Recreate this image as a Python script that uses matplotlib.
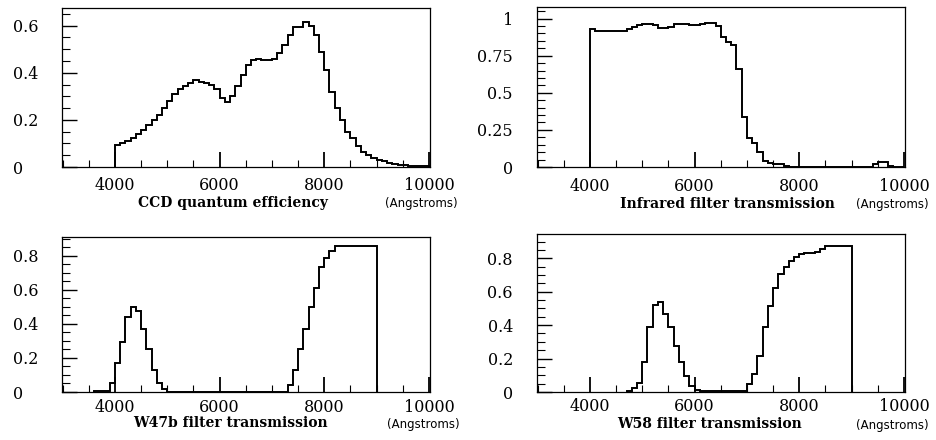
import numpy as np
import matplotlib
matplotlib.use('Agg')
import matplotlib.pyplot as plt
from matplotlib.ticker import MultipleLocator

# all curves are histograms with 100 Angstrom bins
bin_width = 100

# CCD quantum efficiency, first bin at 4000 A
ccd_start = 4000
ccd_values = [0.095, 0.10, 0.11, 0.125, 0.14, 0.155, 0.18, 0.20, 0.22, 0.25,
              0.28, 0.31, 0.33, 0.345, 0.358, 0.37, 0.36, 0.358, 0.35, 0.33,
              0.295, 0.278, 0.30, 0.345, 0.39, 0.435, 0.455, 0.46, 0.455, 0.455,
              0.46, 0.485, 0.52, 0.56, 0.595, 0.595, 0.614, 0.60, 0.56, 0.49,
              0.41, 0.32, 0.25, 0.20, 0.15, 0.125, 0.09, 0.065, 0.05, 0.04,
              0.03, 0.025, 0.018, 0.013, 0.01, 0.007, 0.004, 0.003, 0.003, 0.003]

# infrared filter, first bin at 4000 A
ir_start = 4000
ir_values = [0.928, 0.917, 0.917, 0.917, 0.917, 0.917, 0.917, 0.928, 0.946, 0.955,
             0.964, 0.964, 0.955, 0.935, 0.935, 0.946, 0.964, 0.964, 0.964, 0.955,
             0.955, 0.964, 0.973, 0.973, 0.951, 0.879, 0.845, 0.823, 0.659, 0.339,
             0.193, 0.16, 0.103, 0.043, 0.025, 0.02, 0.02, 0.01, 0.0, 0.0,
             0.0, 0.0, 0.0, 0.0, 0.0, 0.0, 0.0, 0.0, 0.0, 0.0,
             0.0, 0.0, 0.0, 0.0, 0.02, 0.035, 0.035, 0.008, 0.0, 0.0]

# W47b filter, first bin at 3600 A
w47b_start = 3600
w47b_values = [0.005, 0.005, 0.005, 0.055, 0.17, 0.295, 0.44, 0.50, 0.477, 0.37,
               0.25, 0.13, 0.05, 0.015, 0.0, 0.0, 0.0, 0.0, 0.0, 0.0,
               0.0, 0.0, 0.0, 0.0, 0.0, 0.0, 0.0, 0.0, 0.0, 0.0,
               0.0, 0.0, 0.0, 0.0, 0.0, 0.0, 0.0, 0.04, 0.13, 0.25,
               0.37, 0.50, 0.61, 0.735, 0.79, 0.826, 0.86, 0.86, 0.86, 0.86,
               0.86, 0.86, 0.86, 0.86]

# W58 filter, first bin at 4700 A
w58_start = 4700
w58_values = [0.008, 0.024, 0.054, 0.177, 0.386, 0.52, 0.541, 0.468, 0.386, 0.277,
              0.177, 0.098, 0.038, 0.014, 0.006, 0.006, 0.006, 0.006, 0.006, 0.006,
              0.006, 0.006, 0.006, 0.05, 0.11, 0.213, 0.386, 0.515, 0.62, 0.706,
              0.746, 0.786, 0.806, 0.824, 0.83, 0.83, 0.84, 0.854, 0.876, 0.876,
              0.876, 0.876, 0.876]

x_ticks = [4000, 6000, 8000, 10000]
x_tick_labels = ['4000', '6000', '8000', '10000']

ccd_y_ticks = [0, 0.2, 0.4, 0.6]
ccd_y_labels = ['0', '0.2', '0.4', '0.6']
ir_y_ticks = [0, 0.25, 0.5, 0.75, 1]
ir_y_labels = ['0', '0.25', '0.5', '0.75', '1']
filter_y_ticks = [0, 0.2, 0.4, 0.6, 0.8]
filter_y_labels = ['0', '0.2', '0.4', '0.6', '0.8']

titles = ['CCD quantum efficiency', 'Infrared filter transmission',
          'W47b filter transmission', 'W58 filter transmission']
unit_label = '(Angstroms)'

W, H = 937, 440
plt.rcParams['font.family'] = 'DejaVu Serif'


# one histogram panel, box given in pixels (left, top, right, bottom)
def draw_panel(fig, box, start, values, y_top, y_ticks, y_labels, y_pad, y_ha, x_pad):
    left, top, right, bottom = box
    ax = fig.add_axes([left / W, 1 - bottom / H, (right - left) / W, (bottom - top) / H])

    edges = start + bin_width * np.arange(len(values) + 1)
    ax.stairs(values, edges, baseline=0, color='black', linewidth=1.4)

    ax.set_xlim(2990, 10020)
    ax.set_ylim(0, y_top)

    ax.set_xticks(x_ticks)
    ax.set_xticklabels(x_tick_labels)
    ax.xaxis.set_minor_locator(MultipleLocator(500))
    ax.set_yticks(y_ticks)
    ax.set_yticklabels(y_labels)
    ax.yaxis.set_minor_locator(MultipleLocator(0.05))

    ax.tick_params(axis='both', which='both', direction='in', top=False, right=False,
                   labelsize=11.5, colors='black')
    ax.tick_params(axis='x', which='major', length=11, width=1.3, pad=x_pad)
    ax.tick_params(axis='x', which='minor', length=5, width=0.8)
    ax.tick_params(axis='y', which='major', length=11, width=1.0, pad=y_pad)
    ax.tick_params(axis='y', which='minor', length=6, width=0.8)
    plt.setp(ax.get_yticklabels(), ha=y_ha)

    for spine in ax.spines.values():
        spine.set_linewidth(0.9)
    return ax


fig = plt.figure(figsize=(W / 100, H / 100), dpi=100)

draw_panel(fig, (62, 8, 430, 167), ccd_start, ccd_values, 0.675,
           ccd_y_ticks, ccd_y_labels, 35.3, 'left', 7.5)
draw_panel(fig, (537, 7, 905, 167), ir_start, ir_values, 1.078,
           ir_y_ticks, ir_y_labels, 17.3, 'right', 8.0)
draw_panel(fig, (62, 237, 430, 392), w47b_start, w47b_values, 0.911,
           filter_y_ticks, filter_y_labels, 35.3, 'left', 5.0)
draw_panel(fig, (537, 234, 905, 392), w58_start, w58_values, 0.945,
           filter_y_ticks, filter_y_labels, 17.3, 'right', 4.5)

# panel captions and units under each x axis
title_pos = [(233, 203), (727, 204), (230, 423), (710, 424)]
unit_pos = [(421, 203), (892, 204), (423, 424), (892, 425)]
for title, (tx, ty), (ux, uy) in zip(titles, title_pos, unit_pos):
    fig.text(tx / W, 1 - ty / H, title, ha='center', va='center',
             fontsize=10, fontweight='bold')
    fig.text(ux / W, 1 - uy / H, unit_label, ha='center', va='center',
             fontsize=8.5, family='DejaVu Sans')

plt.savefig('out.png', dpi=100)
